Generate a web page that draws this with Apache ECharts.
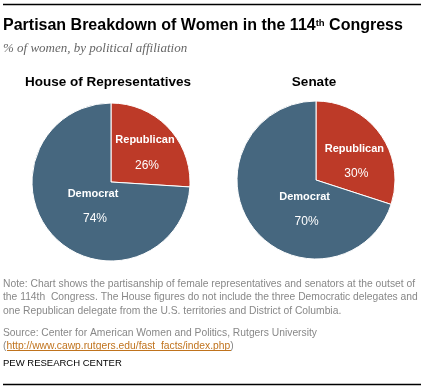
<!DOCTYPE html>
<html><head><meta charset="utf-8">
<script src="https://cdn.jsdelivr.net/npm/echarts@6/dist/echarts.min.js"></script>
<style>html,body{margin:0;padding:0;background:#fff;}#c{width:424px;height:388px;}</style>
</head><body><div id="c"></div>
<script>
var parties = ['Republican', 'Democrat'];
var houseValues = [26, 74];
var senateValues = [30, 70];
var chambers = ['House of Representatives', 'Senate'];
var colors = ['#bd3a28', '#46677f'];

var chart = echarts.init(document.getElementById('c'), null, {renderer: 'canvas'});

function pieSeries(values, cx, cy, dems) {
  return {
    type: 'pie',
    center: [cx, cy],
    radius: [0, 79],
    startAngle: 90,
    clockwise: true,
    silent: true,
    animation: false,
    itemStyle: {borderColor: '#fff', borderWidth: 1},
    label: {
      show: true,
      position: 'inner',
      formatter: function (p) { return '{n|' + p.name + '}\n{v|' + p.value + '%}'; },
      rich: {
        n: {fontFamily: 'Liberation Sans', fontWeight: 'bold', fontSize: 11, color: '#fff', lineHeight: 25},
        v: {fontFamily: 'Liberation Sans', fontSize: 12, color: '#fff', lineHeight: 25, padding: [0, 0, 0, 4]}
      }
    },
    labelLine: {show: false},
    labelLayout: function (p) {
      if (p.dataIndex === 1) return {dx: dems[0], dy: dems[1]};
      return {dx: dems[2], dy: dems[3]};
    },
    data: parties.map(function (n, i) { return {name: n, value: values[i], itemStyle: {color: colors[i]}}; })
  };
}

var noteFont = '10.3px "Liberation Sans"';

chart.setOption({
  animation: false,
  title: [
    {text: 'Partisan Breakdown of Women in the 114{s|th} Congress', left: 3, top: 18, padding: 0,
     textStyle: {fontFamily: 'Liberation Sans', fontWeight: 'bold', fontSize: 16, color: '#000',
       rich: {s: {fontFamily: 'Liberation Sans', fontWeight: 'bold', fontSize: 9.5, color: '#000', verticalAlign: 'top', padding: [0,0,6,0]}}}},
    {text: '% of women, by political affiliation', left: 3, top: 42, padding: 0,
     textStyle: {fontFamily: 'Liberation Serif', fontStyle: 'italic', fontWeight: 'normal', fontSize: 13, color: '#666'}},
    {text: chambers[0], left: 108, top: 75, textAlign: 'center', padding: 0,
     textStyle: {fontFamily: 'Liberation Sans', fontWeight: 'bold', fontSize: 13.5, color: '#000'}},
    {text: chambers[1], left: 314, top: 75, textAlign: 'center', padding: 0,
     textStyle: {fontFamily: 'Liberation Sans', fontWeight: 'bold', fontSize: 13.5, color: '#000'}}
  ],
  graphic: [
    {type: 'line', shape: {x1: 3, y1: 4.5, x2: 421, y2: 4.5}, style: {stroke: '#000', lineWidth: 1.5}},
    {type: 'line', shape: {x1: 3, y1: 384.5, x2: 421, y2: 384.5}, style: {stroke: '#000', lineWidth: 1.5}},
    {type: 'text', left: 3, top: 277, style: {
      text: 'Note: Chart shows the partisanship of female representatives and senators at the outset of\nthe 114th  Congress. The House figures do not include the three Democratic delegates and\none Republican delegate from the U.S. territories and District of Columbia.',
      font: noteFont, fill: '#888', lineHeight: 13.5}},
    {type: 'text', left: 3, top: 326, style: {
      text: 'Source: Center for American Women and Politics, Rutgers University',
      font: noteFont, fill: '#888', lineHeight: 14}},
    {type: 'text', left: 3, top: 339, style: {
      rich: {p: {fill: '#888', font: noteFont},
             u: {fill: '#c0731d', font: noteFont}},
      text: '{p|(}{u|http://www.cawp.rutgers.edu/fast_facts/index.php}{p|)}', lineHeight: 14}},
    {type: 'line', shape: {x1: 7, y1: 350.5, x2: 231, y2: 350.5}, style: {stroke: '#c0731d', lineWidth: 1}},
    {type: 'text', left: 3, top: 358, style: {
      text: 'PEW RESEARCH CENTER', font: '9.5px "Liberation Sans"', fill: '#000'}}
  ],
  series: [
    pieSeries(houseValues, 111, 182, [13, -5, 3, 0]),
    pieSeries(senateValues, 316, 180, [23, 4, 4, 6])
  ]
});
</script></body></html>
